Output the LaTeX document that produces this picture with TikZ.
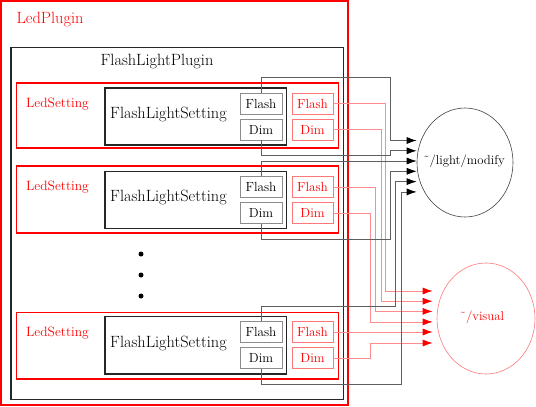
\documentclass[tikz,border=0pt]{standalone}
\usetikzlibrary{arrows.meta,shapes.geometric}
\definecolor{lred}{RGB}{255,120,120}
\definecolor{lnred}{RGB}{255,140,140}
\definecolor{gbox}{RGB}{140,140,140}
\definecolor{gline}{RGB}{95,95,95}
\begin{document}
\begin{tikzpicture}[x=1pt,y=-1pt,
  bigtxt/.style={font=\fontsize{16.3}{19}\selectfont, inner sep=0pt},
  smtxt/.style={font=\fontsize{13.5}{16}\selectfont, inner sep=0pt},
  toptxt/.style={font=\fontsize{12.8}{15}\selectfont, inner sep=0pt},
  rbox/.style={draw=red, line width=1.6pt, inner sep=0pt},
  kbox/.style={draw=black!85, line width=1.4pt, inner sep=0pt},
  pbox/.style={draw=gbox, line width=0.9pt, inner sep=0pt, minimum width=42pt, minimum height=21pt, font=\fontsize{13.2}{15}\selectfont},
  prbox/.style={draw=lred, line width=0.9pt, inner sep=0pt, minimum width=41pt, minimum height=21pt, text=red, font=\fontsize{13.2}{15}\selectfont},
  gcon/.style={draw=gline, line width=0.8pt, -{Latex[length=10pt,width=7pt,color=black]}},
  rcon/.style={draw=lnred, line width=0.8pt, -{Latex[length=10pt,width=7pt,color=red]}},
  dotn/.style={circle, fill=black, inner sep=0pt, minimum size=5pt},
  topic/.style={ellipse, line width=0.6pt, inner sep=0pt}
]
\useasboundingbox (0,0) rectangle (536,407);

% outer boxes
\node[rbox, line width=2pt, minimum width=347pt, minimum height=404pt] (lp) at (174.5,203) {};
\node[bigtxt, text=red] (lpt) at (50,20) {LedPlugin};
\node[kbox, line width=1.6pt, minimum width=332.5pt, minimum height=352pt] (flp) at (177.25,223.5) {};
\node[bigtxt] (flpt) at (157,62) {FlashLightPlugin};

% setting 1
\node[rbox, minimum width=322pt, minimum height=65pt] (ls1) at (177.5,115.5) {};
\node[smtxt, text=red] (ls1t) at (57.5,104) {LedSetting};
\node[kbox, minimum width=181.5pt, minimum height=57pt] (fls1) at (195.75,116.5) {};
\node[bigtxt, anchor=west] (fls1t) at (110,114) {FlashLightSetting};
\node[pbox] (f1) at (261,103.5) {Flash};
\node[pbox] (d1) at (261,129.5) {Dim};
\node[prbox] (rf1) at (312.5,103.5) {Flash};
\node[prbox] (rd1) at (312.5,129.5) {Dim};

% setting 2
\node[rbox, minimum width=322pt, minimum height=67pt] (ls2) at (177.5,199.5) {};
\node[smtxt, text=red] (ls2t) at (57.5,187) {LedSetting};
\node[kbox, minimum width=181.5pt, minimum height=57pt] (fls2) at (195.75,200) {};
\node[bigtxt, anchor=west] (fls2t) at (110,197.5) {FlashLightSetting};
\node[pbox] (f2) at (261,187) {Flash};
\node[pbox] (d2) at (261,213) {Dim};
\node[prbox] (rf2) at (312.5,187) {Flash};
\node[prbox] (rd2) at (312.5,213) {Dim};

% dots
\node[dotn] (dt1) at (141,254) {};
\node[dotn] (dt2) at (141,275) {};
\node[dotn] (dt3) at (141,296) {};

% setting 3
\node[rbox, minimum width=322pt, minimum height=66.5pt] (ls3) at (177.5,345.75) {};
\node[smtxt, text=red] (ls3t) at (57.5,333.5) {LedSetting};
\node[kbox, minimum width=181.5pt, minimum height=57.5pt] (fls3) at (195.75,345.25) {};
\node[bigtxt, anchor=west] (fls3t) at (110,343) {FlashLightSetting};
\node[pbox] (f3) at (261,332) {Flash};
\node[pbox] (d3) at (261,358) {Dim};
\node[prbox] (rf3) at (312.5,332) {Flash};
\node[prbox] (rd3) at (312.5,358) {Dim};

% topics
\node[topic, draw=black!75, minimum width=96pt, minimum height=109pt] (mod) at (465,162.5) {};
\node[toptxt] (modt) at (464,161) {\char"02DC/light/modify};
\node[topic, draw=lred, minimum width=98pt, minimum height=111pt] (vis) at (486,318.5) {};
\node[toptxt, text=red] (vist) at (482,317) {\char"02DC/visual};

% arrow end points
\coordinate (m1) at ([yshift=22pt]mod.west);
\coordinate (m2) at ([yshift=11.7pt]mod.west);
\coordinate (m3) at ([yshift=1.5pt]mod.west);
\coordinate (m4) at ([yshift=-8.8pt]mod.west);
\coordinate (m5) at ([yshift=-19.1pt]mod.west);
\coordinate (m6) at ([yshift=-29.4pt]mod.west);
\coordinate (v1) at ([xshift=-4pt,yshift=27.5pt]vis.west);
\coordinate (v2) at ([xshift=-4pt,yshift=17.3pt]vis.west);
\coordinate (v3) at ([xshift=-4pt,yshift=7.1pt]vis.west);
\coordinate (v4) at ([xshift=-4pt,yshift=-3.4pt]vis.west);
\coordinate (v5) at ([xshift=-4pt,yshift=-13.5pt]vis.west);
\coordinate (v6) at ([xshift=-4pt,yshift=-24.5pt]vis.west);

% red connectors
\draw[rcon] (rf1.east) -| (385.3,291) -- (v1);
\draw[rcon] (rd1.east) -| (381,301.2) -- (v2);
\draw[rcon] (rf2.east) -| (375.7,311.4) -- (v3);
\draw[rcon] (rd2.east) -| (370,321.9) -- (v4);
\draw[rcon] (rf3.east) -- (v5);
\draw[rcon] (rd3.east) -| (370,343) -- (v6);

% gray connectors
\draw[gcon] (f1.north) |- (390.7,77.5) |- (m1);
\draw[gcon] (d1.south) |- (390.7,155) |- (m2);
\draw[gcon] (f2.north) |- (m3);
\draw[gcon] (d2.south) |- (390.7,239) |- (m4);
\draw[gcon] (f3.north) |- (395.7,306.7) |- (m5);
\draw[gcon] (d3.south) |- (401.3,384.3) |- (m6);
\end{tikzpicture}
\end{document}
